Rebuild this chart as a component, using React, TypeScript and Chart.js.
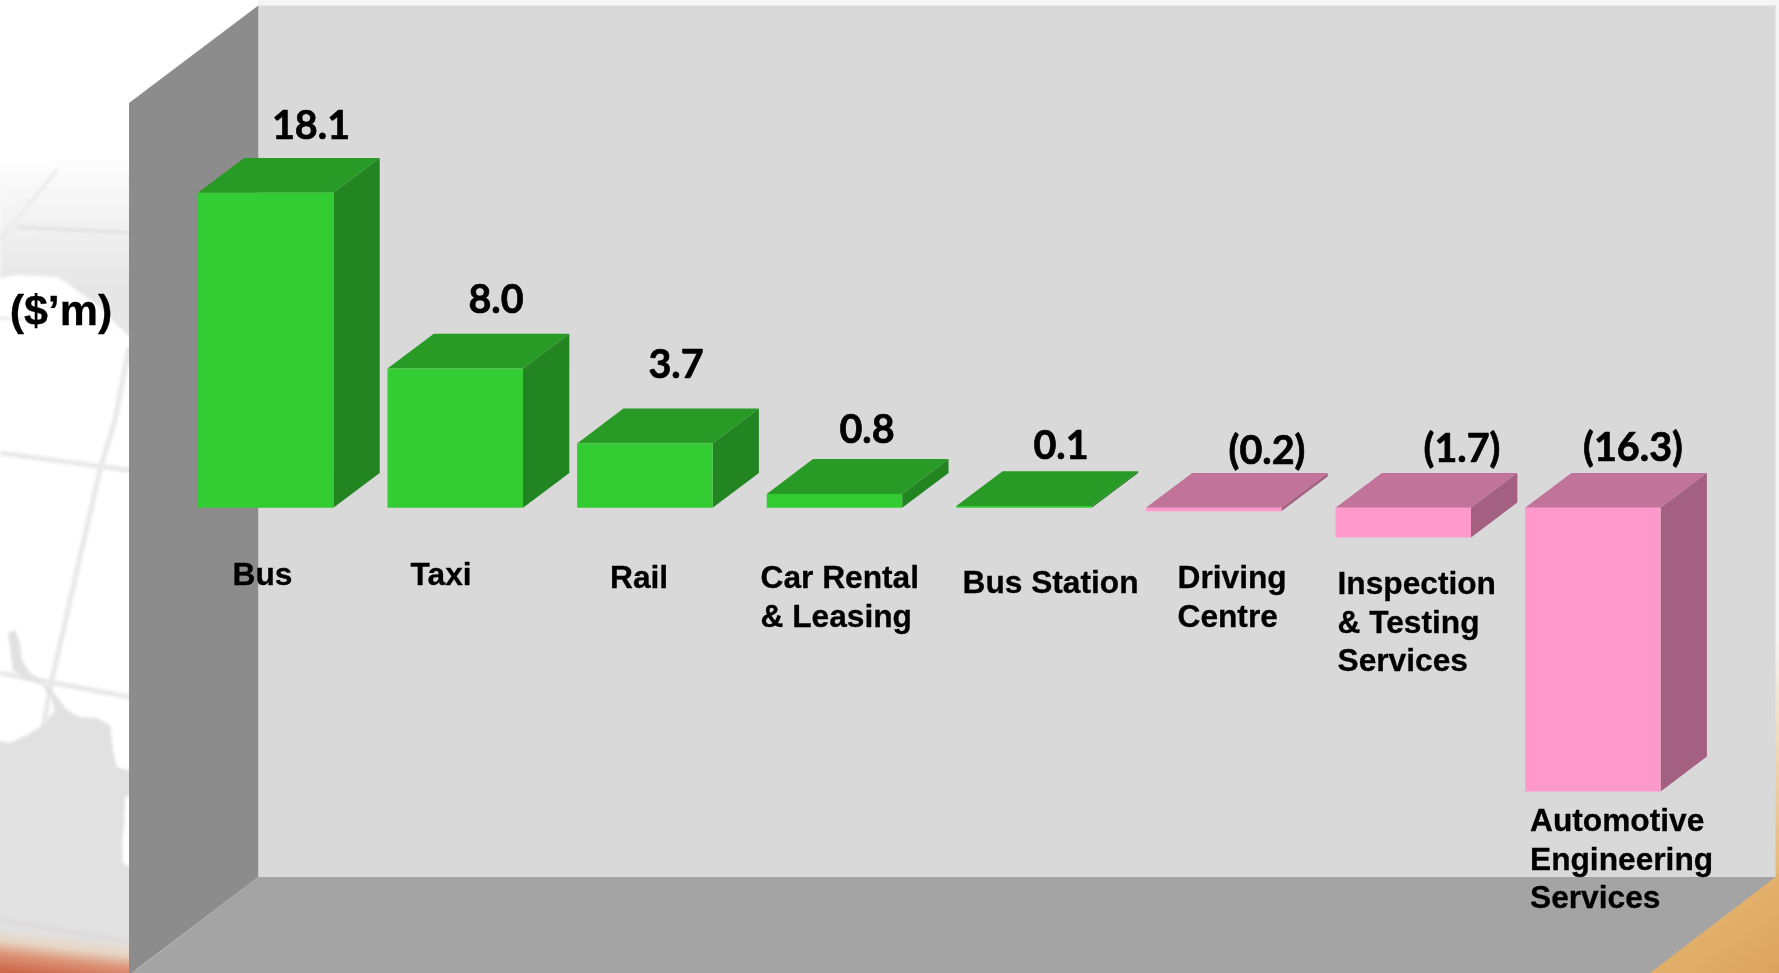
import React, { useEffect, useRef } from "react";
import { Chart, registerables } from "chart.js";

Chart.register(...registerables);

const categories = [
  ["Bus"],
  ["Taxi"],
  ["Rail"],
  ["Car Rental", "& Leasing"],
  ["Bus Station"],
  ["Driving", "Centre"],
  ["Inspection", "& Testing", "Services"],
  ["Automotive", "Engineering", "Services"],
];
const values = [18.1, 8.0, 3.7, 0.8, 0.1, -0.2, -1.7, -16.3];
const unitLabel = "($’m)";

// Layout only (page pixels)
const W = 1779;
const H = 973;
const PX_PER_UNIT = 17.4;
const ZERO_Y = 507.8;
const BAND = 189.6;
const FIRST_BAND_LEFT = 170.85;
const DEPTH_X = 46.3;
const DEPTH_Y = 34.8;
const valueLabelX = [311, 496, 676, 867, 1061, 1267, 1462, 1633];
const valueLabelY = [126, 300.5, 365, 430, 446, 451, 449, 448];
const catLabelX = [232.5, 410.5, 610, 760.5, 962.5, 1177.5, 1337.5, 1530];
const catLabelY = [576.5, 576.5, 579, 579.5, 584, 579.5, 585.5, 822.5];
const LINE_H = 38.4;

const shade = {
  pos: { front: "#33cc33", top: "#289a26", side: "#238522" },
  neg: { front: "#ff99cc", top: "#c27399", side: "#a36080" },
};

function poly(ctx: CanvasRenderingContext2D, pts: number[][], fill: any) {
  ctx.beginPath();
  pts.forEach((p, i) => (i ? ctx.lineTo(p[0], p[1]) : ctx.moveTo(p[0], p[1])));
  ctx.closePath();
  ctx.fillStyle = fill;
  ctx.fill();
}

function stroke(ctx: CanvasRenderingContext2D, pts: number[][], width = 4, color = "#e8e8e8") {
  ctx.beginPath();
  pts.forEach((p, i) => (i ? ctx.lineTo(p[0], p[1]) : ctx.moveTo(p[0], p[1])));
  ctx.lineWidth = width;
  ctx.strokeStyle = color;
  ctx.stroke();
}

function text(ctx: CanvasRenderingContext2D, s: string, x: number, y: number, weight: number) {
  ctx.lineWidth = weight;
  ctx.strokeStyle = "#000000";
  ctx.lineJoin = "round";
  ctx.strokeText(s, x, y);
  ctx.fillText(s, x, y);
}

const scenery = {
  id: "scenery",
  beforeDraw(chart: any) {
    const ctx: CanvasRenderingContext2D = chart.ctx;
    ctx.save();
    ctx.fillStyle = "#ffffff";
    ctx.fillRect(0, 0, W, H);

    // faded globe behind the chart, left of the wall
    ctx.filter = "blur(1.5px)";
    const haze = ctx.createLinearGradient(0, 150, 0, 285);
    haze.addColorStop(0, "#ffffff");
    haze.addColorStop(1, "#e6e6e7");
    poly(ctx, [[0, 165], [135, 155], [135, 342], [112, 320], [100, 307], [80, 293], [67, 283], [57, 277], [20, 275], [0, 278]], haze);
    stroke(ctx, [[57, 170], [0, 240]], 3, "#eaeaea");
    stroke(ctx, [[17, 227], [135, 233]], 3, "#e0e0e0");
    stroke(ctx, [[0, 318], [43, 320]], 3, "#ebebeb");
    stroke(ctx, [[129, 347], [115, 420], [100, 470], [50, 688], [15, 900], [5, 935]], 5);
    stroke(ctx, [[0, 453], [135, 471]], 5);
    stroke(ctx, [[0, 673], [135, 698]], 5);
    poly(ctx, [
      [-5, 740], [10, 743], [27, 735], [43, 725], [55, 710], [50, 695], [40, 683], [23, 678], [13, 670],
      [8, 633], [15, 630], [20, 643], [22, 660], [30, 673], [50, 688], [67, 710], [80, 717], [97, 718], [110, 725],
      [113, 750], [117, 767], [135, 772], [135, 793], [125, 797], [124, 827], [122, 840], [123, 863], [135, 870],
      [135, 950], [-5, 935],
    ], "#e2e1e2");
    stroke(ctx, [[0, 920], [135, 943]], 4, "#dcdada");

    const ember = ctx.createLinearGradient(66, 935, 61, 978);
    ember.addColorStop(0, "#e2e0de");
    ember.addColorStop(0.3, "#e6d6c4");
    ember.addColorStop(0.6, "#dc9478");
    ember.addColorStop(1, "#cc664a");
    poly(ctx, [[-5, 930], [135, 945], [135, 980], [-5, 980]], ember);
    ctx.filter = "none";

    // right margin and lower-right corner
    const rim = ctx.createLinearGradient(0, 640, 0, 880);
    rim.addColorStop(0, "#f4f4f4");
    rim.addColorStop(1, "#e6b66f");
    ctx.fillStyle = "#f4f4f4";
    ctx.fillRect(1775, 0, 4, 640);
    ctx.fillStyle = rim;
    ctx.fillRect(1775, 640, 4, 240);
    ctx.fillStyle = "#f6f6f6";
    ctx.fillRect(258, 0, 1521, 5.5);
    const corner = ctx.createLinearGradient(1720, 880, 1779, 973);
    corner.addColorStop(0, "#e6b66f");
    corner.addColorStop(1, "#dba35f");
    poly(ctx, [[1779, 874], [1779, 973], [1640, 973], [1775, 874]], corner);

    // the box: back wall, floor, left wall
    poly(ctx, [[258.3, 5.5], [1775.5, 5.5], [1775.5, 877], [258.3, 877]], "#d9d9d9");
    poly(ctx, [[258.3, 877], [1775.5, 877], [1650, 973], [132, 973]], "#a4a4a4");
    poly(ctx, [[129, 103], [258.3, 5.5], [258.3, 877], [129, 975]], "#8c8c8c");
    ctx.restore();
  },
};

const prism = {
  id: "prism",
  beforeDatasetsDraw(chart: any) {
    const ctx: CanvasRenderingContext2D = chart.ctx;
    const meta = chart.getDatasetMeta(0);
    ctx.save();
    meta.data.forEach((bar: any, i: number) => {
      const c = values[i] >= 0 ? shade.pos : shade.neg;
      const l = bar.x - bar.width / 2;
      const r = bar.x + bar.width / 2;
      const t = Math.min(bar.y, bar.base);
      const b = Math.max(bar.y, bar.base);
      poly(ctx, [[l, t], [l + DEPTH_X, t - DEPTH_Y], [r + DEPTH_X, t - DEPTH_Y], [r, t]], c.top);
      poly(ctx, [[r, t], [r + DEPTH_X, t - DEPTH_Y], [r + DEPTH_X, b - DEPTH_Y], [r, b]], c.side);
    });
    ctx.restore();
  },
  afterDatasetsDraw(chart: any) {
    const ctx: CanvasRenderingContext2D = chart.ctx;
    ctx.save();
    ctx.fillStyle = "#000000";
    ctx.textBaseline = "middle";

    ctx.textAlign = "center";
    ctx.font = "bold 39.5px Lato";
    values.forEach((v, i) => {
      const s = v < 0 ? `(${Math.abs(v).toFixed(1)})` : v.toFixed(1);
      text(ctx, s, valueLabelX[i], valueLabelY[i], 0.7);
    });

    ctx.textAlign = "left";
    ctx.font = "bold 31.7px 'Liberation Sans'";
    categories.forEach((lines, i) => {
      lines.forEach((line, j) => text(ctx, line, catLabelX[i], catLabelY[i] + j * LINE_H, 0.3));
    });

    ctx.textAlign = "center";
    ctx.font = "bold 43px 'Liberation Sans'";
    text(ctx, unitLabel, 61, 313, 0.3);
    ctx.restore();
  },
};

export default function App() {
  const ref = useRef<HTMLCanvasElement | null>(null);
  useEffect(() => {
    document.body.style.margin = "0";
    document.body.style.overflow = "hidden";
    const chart = new Chart(ref.current as HTMLCanvasElement, {
      type: "bar",
      data: {
        labels: categories.map((c) => c.join(" ")),
        datasets: [
          {
            data: values,
            backgroundColor: values.map((v) => (v >= 0 ? shade.pos.front : shade.neg.front)),
            borderWidth: 0,
            barPercentage: 135.5 / BAND,
            categoryPercentage: 1,
          },
        ],
      },
      options: {
        animation: false,
        responsive: false,
        devicePixelRatio: 1,
        layout: {
          padding: { left: FIRST_BAND_LEFT, right: W - FIRST_BAND_LEFT - 8 * BAND, top: 0, bottom: 0 },
        },
        plugins: { legend: { display: false }, tooltip: { enabled: false }, title: { display: false } },
        scales: {
          x: { display: false },
          y: { display: false, min: -(H - ZERO_Y) / PX_PER_UNIT, max: ZERO_Y / PX_PER_UNIT },
        },
      },
      plugins: [scenery, prism],
    } as any);
    return () => chart.destroy();
  }, []);
  return (
    <div style={{ position: "absolute", left: 0, top: 0, width: W, height: H }}>
      <canvas ref={ref} width={W} height={H} style={{ display: "block", width: W, height: H }} />
    </div>
  );
}
